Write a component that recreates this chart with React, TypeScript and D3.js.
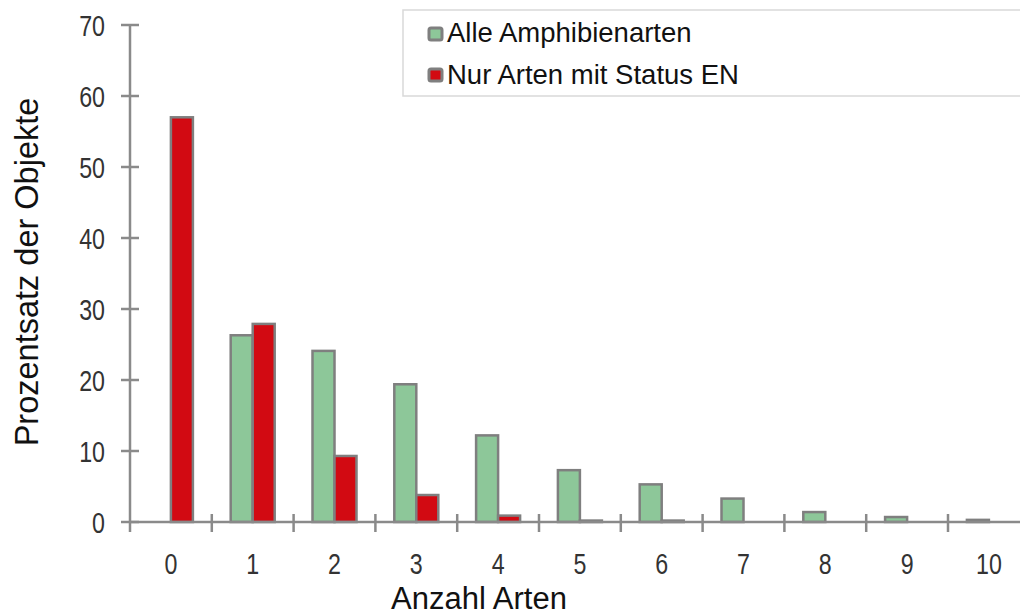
import React from "react";
import * as d3 from "d3";

const categories = ["0", "1", "2", "3", "4", "5", "6", "7", "8", "9", "10"];
const alleAmphibienarten = [0, 26.3, 24.1, 19.4, 12.2, 7.3, 5.3, 3.3, 1.4, 0.7, 0.3];
const nurArtenEN = [57, 27.9, 9.3, 3.8, 0.9, 0.2, 0.2, 0, 0, 0, 0];
const yTicks = [0, 10, 20, 30, 40, 50, 60, 70];
const seriesNames = ["Alle Amphibienarten", "Nur Arten mit Status EN"];

const W = 1020;
const H = 616;
const FONT = "'Liberation Sans', Arial, sans-serif";
const GREEN = "#8dc799";
const RED = "#d20a12";
const BORDER = "#7f7f7f";
const AXIS = "#8a8a8a";

export default function App() {
  const x0 = 130;
  const band = 81.8;
  const x = d3
    .scaleBand<string>()
    .domain(categories)
    .range([x0, x0 + band * categories.length])
    .paddingInner(0)
    .paddingOuter(0);
  const y = d3.scaleLinear().domain([0, 70]).range([522, 25]);
  const barW = 22;
  const series = [
    { name: seriesNames[0], values: alleAmphibienarten, color: GREEN },
    { name: seriesNames[1], values: nurArtenEN, color: RED },
  ];

  return (
    <svg
      width={W}
      height={H}
      style={{ position: "absolute", left: 0, top: 0, background: "#fff" }}
      fontFamily={FONT}
    >
      {/* bars */}
      {series.map((s, si) =>
        s.values.map((v, i) => {
          if (v <= 0) return null;
          const cx = (x(categories[i]) as number) + x.bandwidth() / 2;
          const bx = cx - barW + si * barW;
          return (
            <rect
              key={`${si}-${i}`}
              x={bx}
              y={y(v)}
              width={barW}
              height={y(0) - y(v)}
              fill={s.color}
              stroke={BORDER}
              strokeWidth={2.5}
            />
          );
        })
      )}
      {/* y axis */}
      <line x1={x0} x2={x0} y1={y(70)} y2={y(0) + 10} stroke={AXIS} strokeWidth={2.5} />
      {yTicks.map((t) => (
        <g key={t}>
          <line x1={x0 - 9} x2={x0 + 9} y1={y(t)} y2={y(t)} stroke={AXIS} strokeWidth={2.5} />
          <text
            transform={`translate(105, ${y(t) + 1}) scale(0.8, 1)`}
            textAnchor="end"
            dominantBaseline="central"
            fontSize={29}
            fill="#333"
          >
            {t}
          </text>
        </g>
      ))}
      {/* x axis */}
      <line x1={x0} x2={W} y1={y(0)} y2={y(0)} stroke={AXIS} strokeWidth={2.5} />
      {categories.map((c) => {
        const left = x(c) as number;
        return (
          <g key={c}>
            {c !== "0" && (
              <line x1={left} x2={left} y1={y(0) - 8} y2={y(0) + 10} stroke={AXIS} strokeWidth={2.5} />
            )}
            <text
              transform={`translate(${left + x.bandwidth() / 2}, 564) scale(0.8, 1)`}
              textAnchor="middle"
              dominantBaseline="central"
              fontSize={29}
              fill="#333"
            >
              {c}
            </text>
          </g>
        );
      })}
      {/* axis titles */}
      <text x={479} y={609} textAnchor="middle" fontSize={31} fill="#111">
        Anzahl Arten
      </text>
      <text
        transform={`translate(27, 272) rotate(-90)`}
        textAnchor="middle"
        dominantBaseline="central"
        fontSize={32.5}
        fill="#111"
      >
        Prozentsatz der Objekte
      </text>
      {/* legend */}
      <rect x={403} y={10} width={640} height={86} fill="#fff" stroke="#d9d9d9" strokeWidth={1.5} />
      {series.map((s, i) => (
        <g key={s.name}>
          <rect
            x={429}
            y={28 + i * 41}
            width={13}
            height={12}
            rx={2}
            fill={s.color}
            stroke={BORDER}
            strokeWidth={3}
          />
          <text x={447} y={42 + i * 42} fontSize={27.5} fill="#111">
            {s.name}
          </text>
        </g>
      ))}
    </svg>
  );
}
